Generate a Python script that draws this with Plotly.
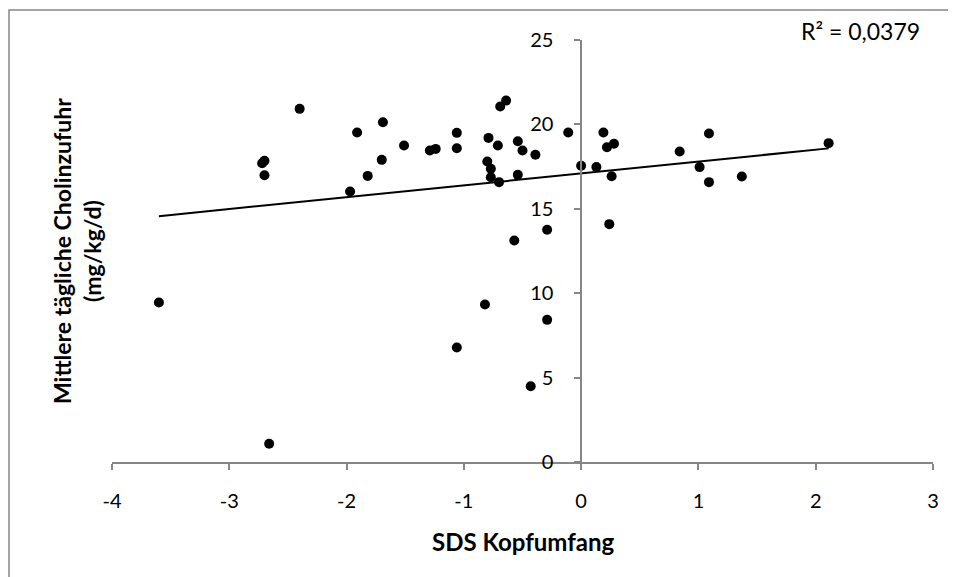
import plotly.graph_objects as go
import numpy as np

# SDS Kopfumfang (x) und mittlere tägliche Cholinzufuhr (y)
sds_kopfumfang = [
    -3.60, -2.66, -1.06, -0.82, -0.57, -0.29, -0.29, -0.43,
    -2.40, -2.72, -2.70, -2.70, -1.97, -1.91, -1.69, -1.70,
    -1.82, -1.51, -1.29, -1.24, -1.06, -1.06, -0.79, -0.80,
    -0.77, -0.77, -0.70, -0.71, -0.69, -0.64, -0.54, -0.50,
    -0.54, -0.39, -0.11, 0.00, 0.13, 0.19, 0.22, 0.28,
    0.26, 0.24, 0.84, 1.09, 1.01, 1.09, 1.37, 2.11,
]
cholinzufuhr = [
    9.45, 1.08, 6.78, 9.33, 13.12, 13.76, 8.42, 4.49,
    20.92, 17.70, 17.85, 16.99, 16.02, 19.52, 20.13, 17.90,
    16.95, 18.75, 18.45, 18.55, 19.50, 18.59, 19.20, 17.80,
    17.37, 16.87, 16.58, 18.75, 21.06, 21.41, 19.00, 18.45,
    17.01, 18.20, 19.52, 17.55, 17.47, 19.52, 18.65, 18.85,
    16.93, 14.09, 18.39, 19.46, 17.47, 16.58, 16.91, 18.89,
]
x_ticks = [-4, -3, -2, -1, 0, 1, 2, 3]
x_ticktext = ['-4', '-3', '-2', '-1', '0', '1', '2', '3']
y_ticks = [0, 5, 10, 15, 20, 25]
r2_text = "R² = 0,0379"

# lineare Trendlinie wie in Excel
x = np.array(sds_kopfumfang)
y = np.array(cholinzufuhr)
slope, intercept = np.polyfit(x, y, 1)
trend_x = np.array([x.min(), x.max()])
trend_y = slope * trend_x + intercept

# Seite hat 8px Body-Rand -> Ränder entsprechend verschoben
W, H = 956, 577
L, R, T, B = 104, 31, 32, 123
plot_w = W - L - R
plot_h = H - T - B


def px_x(v):
    return (v - L) / plot_w


def px_y(v):
    return (H - B - v) / plot_h


fig = go.Figure()

fig.add_trace(go.Scatter(
    x=trend_x, y=trend_y, mode='lines',
    line=dict(color='black', width=2),
    showlegend=False, hoverinfo='skip'
))

fig.add_trace(go.Scatter(
    x=sds_kopfumfang, y=cholinzufuhr, mode='markers',
    marker=dict(color='black', size=10),
    showlegend=False,
    hovertemplate='SDS: %{x:.2f}<br>Cholin: %{y:.2f} mg/kg/d<extra></extra>'
))

axis_grey = '#868686'
font = dict(family='Lato, Carlito, sans-serif', size=20, color='black')

fig.update_layout(
    width=W, height=H,
    margin=dict(l=L, r=R, t=T, b=B),
    paper_bgcolor='white', plot_bgcolor='white',
    font=font,
    xaxis=dict(
        range=[-4, 3], tickvals=x_ticks, ticktext=x_ticktext,
        ticks='outside', ticklen=6,
        tickcolor=axis_grey, tickwidth=1.5,
        showline=True, linecolor=axis_grey, linewidth=1.5,
        showgrid=False, zeroline=False, automargin=False,
        ticklabelstandoff=14,
    ),
    yaxis=dict(
        range=[0, 25], tickvals=y_ticks, ticks='outside', ticklen=6,
        tickcolor=axis_grey, tickwidth=1.5,
        showline=True, linecolor=axis_grey, linewidth=1.5,
        showgrid=False, zeroline=False, automargin=False,
        anchor='free', position=4 / 7,
        ticklabelstandoff=17,
    ),
)

# Achsentitel
fig.add_annotation(
    xref='paper', yref='paper', x=0.5, y=px_y(533),
    text='<b>SDS Kopfumfang</b>', showarrow=False,
    font=dict(size=24), xanchor='center', yanchor='middle'
)
fig.add_annotation(
    xref='paper', yref='paper', x=px_x(69), y=0.5,
    text='<b>Mittlere tägliche Cholinzufuhr<br>(mg/kg/d)</b>',
    textangle=-90, showarrow=False, font=dict(size=23),
    xanchor='center', yanchor='middle'
)

fig.add_annotation(
    xref='paper', yref='paper', x=px_x(914), y=px_y(23),
    text=r2_text, showarrow=False, font=dict(size=23),
    xanchor='right', yanchor='middle'
)

# Diagrammrahmen (nur oben und links sichtbar)
fig.add_shape(
    type='rect', xref='paper', yref='paper',
    x0=px_x(1), x1=2, y0=-2, y1=px_y(2),
    line=dict(color=axis_grey, width=1.5), layer='below'
)

fig.write_html("out.html")
